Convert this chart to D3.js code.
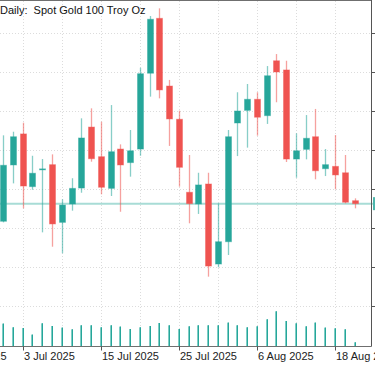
<!DOCTYPE html>
<html>
<head>
<meta charset="utf-8">
<script src="https://cdn.jsdelivr.net/npm/d3@7"></script>
<style>
html,body{margin:0;padding:0;background:#fff;overflow:hidden;}
svg{display:block;}
</style>
</head>
<body>
<svg id="chart" width="375" height="366"></svg>
<script>
const title = "Daily:  Spot Gold 100 Troy Oz";
const dates = ["2025-07-01","2025-07-02","2025-07-03","2025-07-04","2025-07-07","2025-07-08","2025-07-09","2025-07-10","2025-07-11","2025-07-14","2025-07-15","2025-07-16","2025-07-17","2025-07-18","2025-07-21","2025-07-22","2025-07-23","2025-07-24","2025-07-25","2025-07-28","2025-07-29","2025-07-30","2025-07-31","2025-08-01","2025-08-04","2025-08-05","2025-08-06","2025-08-07","2025-08-08","2025-08-11","2025-08-12","2025-08-13","2025-08-14","2025-08-15","2025-08-18","2025-08-19","2025-08-20"];
const opens  = [3304.5,3340.6,3360.5,3326.7,3337.5,3340.8,3303.8,3315.6,3325.8,3364.9,3345.9,3325.6,3350.8,3342.1,3350.8,3399.4,3434.6,3391.2,3369.9,3323.1,3315.6,3328.4,3277.1,3291.4,3367.5,3375.6,3382.7,3372.2,3407.4,3401.5,3344.4,3350.6,3358.7,3338.2,3339.7,3335.6,3317.7];
const highs  = [3359.6,3361.9,3367.7,3346.5,3344.4,3347.4,3318.6,3332.1,3370.5,3376.9,3368.3,3379.0,3353.8,3363.0,3402.9,3436.1,3441.0,3395.1,3375.4,3347.0,3335.6,3335.6,3316.0,3363.0,3387.2,3392.5,3387.2,3404.0,3411.7,3407.4,3360.9,3372.6,3376.5,3350.8,3359.8,3347.0,3319.2];
const lows   = [3303.8,3328.8,3312.8,3324.7,3297.4,3288.2,3284.0,3311.3,3322.8,3342.7,3321.8,3320.7,3310.6,3333.1,3346.5,3384.4,3383.3,3352.8,3326.7,3303.2,3309.2,3269.0,3275.0,3282.9,3346.3,3351.7,3359.4,3366.9,3380.8,3342.5,3332.4,3344.2,3331.4,3333.5,3325.0,3316.0,3312.8];
const closes = [3340.4,3358.7,3327.1,3335.3,3338.1,3302.8,3314.9,3325.6,3357.9,3344.6,3326.3,3349.1,3340.6,3349.7,3399.1,3434.0,3388.7,3370.1,3339.1,3315.8,3327.8,3275.8,3291.4,3358.7,3375.2,3382.7,3371.2,3397.8,3400.2,3344.4,3349.7,3357.7,3336.9,3340.8,3334.2,3316.7,3315.8];
const volumes = [67200,56100,54000,34200,68100,60000,55200,50100,62100,62100,56100,62100,58200,51000,56100,60000,69000,62100,51000,59100,62100,62100,62100,70200,62100,56100,59100,80100,104100,75000,68100,59100,70200,55200,53100,50100,11100];
const priceTicks = [3250,3275,3300,3325,3350,3375,3400,3425];
const dateTickIndex = [-6,2,10,18,26,34];
const dateTickLabels = ["23 Jun 2025","3 Jul 2025","15 Jul 2025","25 Jul 2025","6 Aug 2025","18 Aug 2025"];
const gridIndex = [2,6,10,14,18,22,26,30,34];

const bars = dates.map((d,i)=>({i, date:d, o:opens[i], h:highs[i], l:lows[i], c:closes[i], v:volumes[i]}));

const svg = d3.select("#chart");
const W = 375, H = 366;
const plotRight = 371.5, plotBottom = 346.5;

const x = d3.scaleLinear().domain([0, 36]).range([3.2, 354.5]);
const y = d3.scaleLinear().domain([3225, 3425]).range([345.3, 33.3]);
const yv = d3.scaleLinear().domain([0, 300000]).range([346, 246]);

const bull = "#26a69a", bear = "#ef5350";

// grid
const grid = svg.append("g").attr("stroke","#dcdcdc").attr("stroke-dasharray","1,2").attr("stroke-width",1);
priceTicks.forEach(p=>{
  const yy = Math.round(y(p)) + 0.5;
  grid.append("line").attr("x1",0).attr("x2",plotRight-1).attr("y1",yy).attr("y2",yy);
});
gridIndex.forEach(i=>{
  const xx = Math.round(x(i)) + 0.5;
  grid.append("line").attr("x1",xx).attr("x2",xx).attr("y1",1).attr("y2",plotBottom-1);
});

// volumes
const vg = svg.append("g");
bars.forEach(b=>{
  const xx = Math.round(x(b.i));
  vg.append("rect").attr("x",xx-1).attr("y",yv(b.v)).attr("width",2).attr("height",346-yv(b.v)).attr("fill","#7fcdc5");
  vg.append("rect").attr("x",xx).attr("y",yv(b.v)).attr("width",1).attr("height",346-yv(b.v)).attr("fill",bull);
});

// current price line
const last = closes[closes.length-1];
svg.append("line").attr("x1",0).attr("x2",375).attr("y1",y(last)).attr("y2",y(last))
  .attr("stroke","#a8dcd6").attr("stroke-width",2);

// candles
const cg = svg.append("g");
bars.forEach(b=>{
  const up = b.c >= b.o;
  const col = up ? bull : bear;
  const xx = Math.round(x(b.i)) + 0.5;
  cg.append("line").attr("x1",xx).attr("x2",xx).attr("y1",y(b.h)).attr("y2",y(b.l))
    .attr("stroke",col).attr("stroke-opacity",0.55).attr("stroke-width",1.3);
  const top = y(Math.max(b.o,b.c)), bot = y(Math.min(b.o,b.c));
  cg.append("rect").attr("x",xx-3).attr("y",top).attr("width",6).attr("height",Math.max(1,bot-top))
    .attr("fill",col).attr("stroke",col).attr("stroke-opacity",0.4).attr("stroke-width",1);
});

// frame
svg.append("line").attr("x1",0).attr("x2",plotRight).attr("y1",0.5).attr("y2",0.5).attr("stroke","#6f6f6f");
svg.append("line").attr("x1",plotRight).attr("x2",plotRight).attr("y1",0).attr("y2",plotBottom).attr("stroke","#555");
svg.append("line").attr("x1",0).attr("x2",plotRight).attr("y1",plotBottom).attr("y2",plotBottom).attr("stroke","#6f6f6f");

// right ticks
priceTicks.forEach(p=>{
  const yy = Math.round(y(p)) + 0.5;
  svg.append("line").attr("x1",plotRight).attr("x2",375).attr("y1",yy).attr("y2",yy).attr("stroke","#555");
});
// price label box
svg.append("rect").attr("x",373).attr("y",y(last)-6.5).attr("width",10).attr("height",13).attr("fill","#4db6ac");

// bottom ticks & labels
dateTickIndex.forEach((i,k)=>{
  const xx = Math.round(x(i)) + 0.5;
  svg.append("line").attr("x1",xx).attr("x2",xx).attr("y1",plotBottom).attr("y2",plotBottom+4).attr("stroke","#555");
  svg.append("text").attr("x",xx+0.5).attr("y",360).attr("font-family","'Liberation Sans', Arial, sans-serif")
    .attr("font-size","11px").attr("fill","#222").text(dateTickLabels[k]);
});

// title
svg.append("text").attr("x",0).attr("y",14).attr("font-family","'Liberation Sans', Arial, sans-serif")
  .attr("font-size","11px").attr("fill","#111").attr("xml:space","preserve").style("white-space","pre").text(title);
</script>
</body>
</html>
